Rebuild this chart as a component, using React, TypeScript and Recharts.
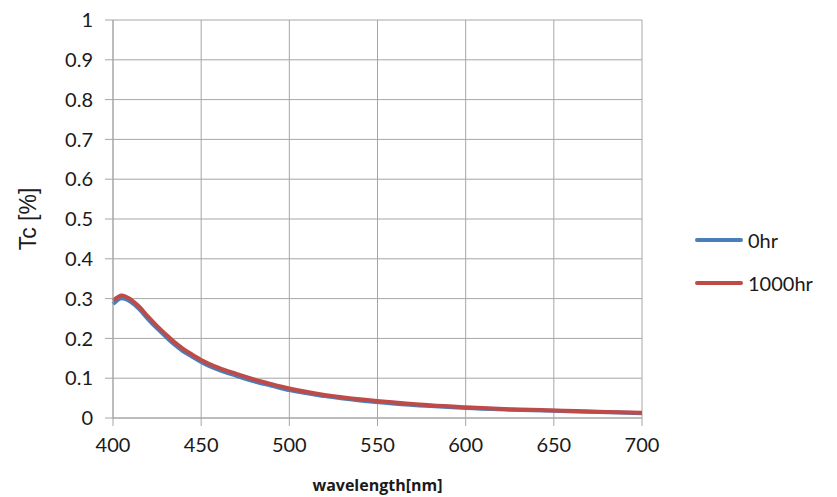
import { LineChart, Line, XAxis, YAxis, CartesianGrid } from 'recharts';

const wavelengths = [400, 405, 410, 415, 420, 425, 430, 435, 440, 445, 450, 460, 470, 480, 490, 500, 520, 540, 560, 580, 600, 625, 650, 675, 700];
const tc0hr = [0.286, 0.301, 0.292, 0.273, 0.248, 0.225, 0.204, 0.184, 0.167, 0.154, 0.141, 0.121, 0.106, 0.092, 0.081, 0.07, 0.055, 0.044, 0.036, 0.03, 0.025, 0.021, 0.018, 0.015, 0.012];
const tc1000hr = [0.295, 0.308, 0.298, 0.279, 0.254, 0.231, 0.21, 0.19, 0.173, 0.159, 0.146, 0.126, 0.111, 0.097, 0.085, 0.074, 0.058, 0.047, 0.039, 0.032, 0.027, 0.022, 0.019, 0.016, 0.013];
const xTicks = [400, 450, 500, 550, 600, 650, 700];
const yTicks = [0, 0.1, 0.2, 0.3, 0.4, 0.5, 0.6, 0.7, 0.8, 0.9, 1];

const seriesInfo = [
  { key: 'h0', name: '0hr', color: '#4a7ebb' },
  { key: 'h1000', name: '1000hr', color: '#be4b48' },
];

const data = wavelengths.map((w, i) => ({ w, h0: tc0hr[i], h1000: tc1000hr[i] }));

const gridColor = '#a6a6a6';
const tickFont = { fontSize: 20, fill: '#1a1a1a', fontFamily: 'Lato' };

// legend drawn as an overlay so it doesn't steal plot width
function LegendBox() {
  return (
    <div style={{ position: 'absolute', left: 695, top: 218, fontFamily: 'Lato', fontSize: 20, color: '#1a1a1a' }}>
      {seriesInfo.map((s) => (
        <div key={s.key} style={{ display: 'flex', alignItems: 'center', height: 43 }}>
          <div style={{ width: 48, height: 4, borderRadius: 2, background: s.color, marginRight: 5 }} />
          <span>{s.name}</span>
        </div>
      ))}
    </div>
  );
}

export default function App() {
  return (
    <div style={{ position: 'absolute', left: 0, top: 0, width: 837, height: 497, background: '#fff' }}>
      <LineChart width={837} height={497} data={data} margin={{ top: 20, right: 195, left: 0, bottom: 0 }}>
        <CartesianGrid stroke={gridColor} strokeWidth={1} />
        <XAxis
          dataKey="w"
          type="number"
          domain={[400, 700]}
          ticks={xTicks}
          height={79}
          stroke={gridColor}
          tickSize={8}
          tickMargin={12}
          tick={tickFont}
          label={{ value: 'wavelength[nm]', position: 'insideBottom', offset: 6, style: { fontFamily: 'Open Sans', fontWeight: 700, fontSize: 16, fill: '#1a1a1a' } }}
        />
        <YAxis
          type="number"
          domain={[0, 1]}
          ticks={yTicks}
          width={113}
          stroke={gridColor}
          tickSize={8}
          tickMargin={12}
          tick={tickFont}
          label={{ value: 'Tc [%]', angle: -90, position: 'insideLeft', offset: 28, style: { fontFamily: 'Liberation Sans', fontSize: 23, fill: '#1a1a1a', textAnchor: 'middle' } }}
        />
        {seriesInfo.map((s) => (
          <Line
            key={s.key}
            type="monotone"
            dataKey={s.key}
            name={s.name}
            stroke={s.color}
            strokeWidth={4}
            dot={false}
            isAnimationActive={false}
          />
        ))}
      </LineChart>
      <LegendBox />
    </div>
  );
}
